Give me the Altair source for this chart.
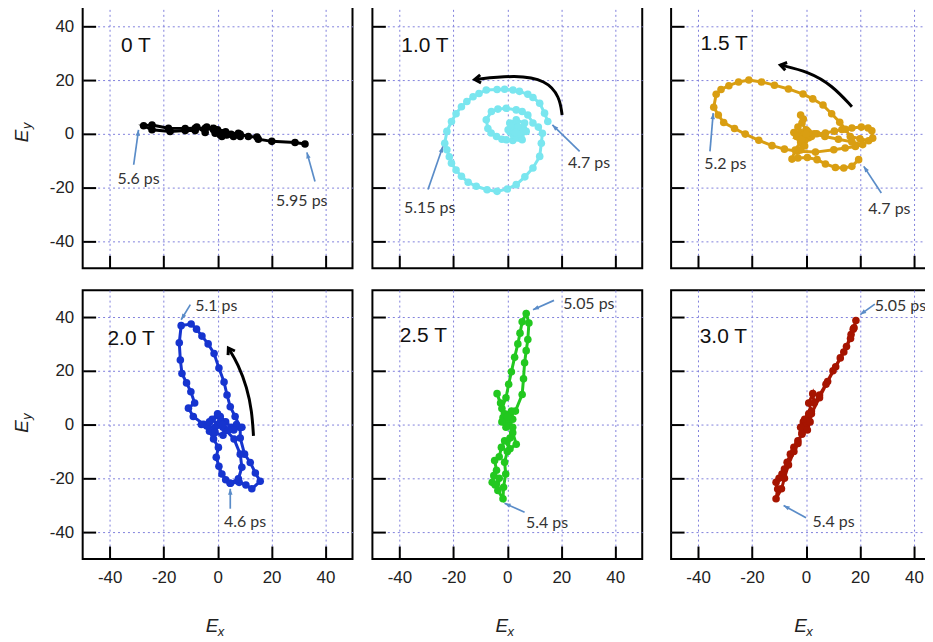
import math
import altair as alt
import pandas as pd

# ---------------- data ----------------
FIELDS = ["0 T", "1.0 T", "1.5 T", "2.0 T", "2.5 T", "3.0 T"]
COLORS = ["#000000", "#7ae6ef", "#d99e12", "#1634cf", "#22c81f", "#a61400"]

x_0T = [1, 2, 0, -1.5, -0.9, 1.6, 3.4, 5.9, 7.7, 8.4, 5, 3, 0, -4, -4.6, -7.7, -8.3, -12, -17.6, -24.3,
        -27.4, -24.3, -18.2, -12, -8.3, -4.6, -1.5, 1, 3.4, 5.9, 8.4, 11.4, 14.6, 15.1, 20.1, 28.7, 32.4]
y_0T = [-0.4, 0.3, 1, 2.1, 0.2, -1, -0.4, -1, 0.2, -1, -0.2, 0.8, 1.5, 2.5, 0.5, 2.5, 1.2, 1.2, 0.9, 1.5,
        3, 3.3, 2.1, 2, 2.1, 2.1, 1.5, 0.5, -0.2, -0.6, -0.2, -1, -1.2, -2, -2.8, -3.2, -3.8]

x_10T = [15, 13.8, 12, 9.5, 7.6, 4.5, 2.1, -1, -3.8, -7.8, -10.5, -12.7, -15, -17, -19, -20.7, -22.4, -23.2,
         -22.4, -21.5, -20.7, -19, -17, -14.5, -11.5, -7.5, -3.8, 0, 3.3, 6.5, 9.5, 12, 12.6, 13, 11.5, 9.5,
         7.6, 5.5, 3.3, -0.4, -3.5, -5.9, -7.8, -7.2, -6, -4, -2, -0.4, 2, 4.6, 7, 6.4, 3.3, 0.9, 0.3, 2.1,
         4.6, 5.2, 3.5, 1.5, 1, 3, 5, 6, 4, 2.5, 3.5, 5.5, 4.5, 3]
y_10T = [4.6, 7.7, 11.4, 13.5, 14.7, 15.8, 16.3, 16.6, 16.5, 16.3, 15, 13.8, 12, 10.1, 7.5, 4.6, 0.9, -3.5,
         -5.9, -8.5, -10.9, -13.5, -15.8, -18, -19.5, -20.8, -21.4, -20.5, -18.9, -16, -12.7, -8.4, -3.5, 0.2,
         2.5, 4, 7, 8.3, 8.9, 9.5, 9.2, 8.3, 5.2, 2, 0.3, -1, -2, -2.2, -2.5, -1.6, 0.9, 4, 5.2, 4, 1.5, -0.3,
         0.2, 2, 3.5, 2.8, 0.8, -0.5, -1, 1, 2.5, 1, -1.5, -2.2, 0, 0.5]

x_15T = [19.5, 17, 14, 10.9, 7.2, 4.1, 0.5, -3, -5.2, -4, -2, 1, 4, 7.2, 10.5, 13.3, 17, 20.5, 23, 24.4,
         24.7, 23.2, 20, 16.4, 14.6, 12.5, 9.5, 6.3, 2.5, -1.1, -6.5, -11.7, -16.5, -21.2, -25, -28.6, -31.5,
         -33.3, -34.2, -32.5, -30.5, -26.5, -22.5, -17.5, -12.6, -8, -3.3, 3.5, 10.3, 14.5, 18.3, 21, 17, 12,
         7, 3, 0, -1.5, -2, -1, -3, -4.5, -2.5, -0.5, 2, 0.5, -2, -3.5, -1, 1, -0.5, -2, -1.5, 0]
y_15T = [-9.6, -12.1, -12.7, -12.5, -11.2, -9.6, -8.8, -9, -9.4, -6, -3, -1.5, 0, 0.3, 1, 1.6, 2.2, 2.5, 2.2,
         1.1, -1.6, -2.6, -1.8, -1, 1.7, 4.3, 7.5, 10.7, 13, 14.8, 16.7, 18.1, 19.3, 20, 19.3, 17.9, 16.5,
         14.7, 9.9, 7, 4.2, 2, -0.1, -2.4, -4.4, -5.7, -6.5, -6.8, -5.9, -5.3, -4.7, -4, -3, -2, -1, 0, 1.5,
         4, 7, 5.5, 2.5, 0.5, -1.5, -2.5, -1, 1, 0.5, -1, -0.5, 0.5, -4.5, -6, -2, 0]

x_20T = [4.7, 8, 10.5, 12.7, 15.8, 14, 12.1, 10, 8.4, 8.4, 6.5, 4.7, 3.5, 2.4, 0.5, -1.3, -3.5, -5.8, -7.8,
         -9.8, -13.5, -14.2, -13.8, -13.2, -11.5, -9.9, -8.5, -10.8, -9, -5.2, -3, -1.5, 0.3, -0.5, 0.5, 1.6,
         3, 4.7, 7.7, 9, 8.4, 6.1, 3, 0, -2, 1, 3, 5, 7, 9, 6, 2, -1, -4, -6, -3, 0, 1, -1, 2, 4, 2]
y_20T = [-21.8, -21.5, -22.5, -23.9, -21.1, -18, -14.1, -11, -5, -1.1, 3, 6.6, 11, 15.8, 21, 26.4, 30, 32.9,
         35.5, 37.4, 36.8, 30.4, 24, 19, 15.5, 12.2, 8, 6.1, 3, 0.1, -2.5, -5.4, -8.5, -12.2, -15.5, -18.4,
         -20.5, -21.8, -20.2, -15.9, -11, -5.4, -2, 0, 2, 3, 1, -1, 0, -1, -2, -1, -1, -0.5, 0, 1, 4, 1, -3,
         -4, -2, 0]

x_25T = [0, 1, 3, 5.5, 6, 6.4, 7, 7.6, 8, 7, 5.5, 4.7, 3.9, 2.7, 1.5, 0.5, -0.5, -2, -3.8, -2.5, -1.6, 0.5,
         2, 3.3, 1, -1, -2.2, -3, -4.7, -4, -5, -5.6, -4.5, -3, -3.5, -1.6, -1.4, -0.6, -1, 0, 1, 2, 0.5, -1,
         1.5, 2, -0.5, -2, 0]
y_25T = [0, 3, 5, 11.2, 17, 23, 27.5, 31.6, 37.8, 41.3, 38.2, 34, 30, 25, 19.6, 15, 10, 6, 11.5, 8, 2.6, 0,
         -3, -7.3, -9, -6, -8.5, -12, -13.4, -17, -19, -21.5, -22.5, -20, -24.5, -27.6, -23.3, -18.4, -14,
         -10, -5, -1, 2, 4, 5, 2, -1, 1, 3]

x_30T = [0, 1, -1, 2, 1, 2.5, 3, 5, 7.4, 10, 12.7, 15, 16.7, 17.5, 18.5, 17.8, 16.5, 14, 11, 8, 5, 2, 0,
         -1.5, -3, -4.5, -5.8, -7, -8, -8.9, -10, -11.1, -10.5, -11.1, -9.1, -8, -6.5, -4.5, -3, -1.5, 0, 1,
         -0.5, -2, 0.5, 1.5]
y_30T = [0, 3, 1, 5, 8, 11.5, 8, 11, 15, 20, 24.8, 29, 33.5, 35.5, 38.7, 36, 32, 27, 21.5, 16, 10, 4, 0,
         -3.6, -6, -8.5, -11, -14, -16.5, -18.4, -20, -21.5, -24, -27.6, -23.9, -20, -15, -10, -7, -3, 0.5,
         4, 2, -1, -2, 1]

TRAJ_X = [x_0T, x_10T, x_15T, x_20T, x_25T, x_30T]
TRAJ_Y = [y_0T, y_10T, y_15T, y_20T, y_25T, y_30T]

# panel label positions (left edge, middle)
LABEL_X = [-35.8, -39.3, -39.1, -40.8, -39.9, -39.4]
LABEL_Y = [32.6, 32.6, 33.3, 32.0, 32.9, 32.5]

# time annotations: text, text x/y, arrow start x/y, arrow tip x/y
ANN_TEXT = [["5.6 ps", "5.95 ps"], ["4.7 ps", "5.15 ps"], ["5.2 ps", "4.7 ps"],
            ["5.1 ps", "4.6 ps"], ["5.05 ps", "5.4 ps"], ["5.05 ps", "5.4 ps"]]
ANN_TX = [[-29.3, 31.2], [30.3, -28.8], [-29.9, 30.9], [-0.5, 10.2], [30.2, 14.7], [35.0, 10.2]]
ANN_TY = [[-16.7, -25.1], [-10.9, -27.5], [-11.2, -27.9], [44.0, -36.3], [44.8, -36.7], [44.0, -36.1]]
ANN_X1 = [[-31.1, 36.1], [26.8, -29.4], [-35.6, 27.9], [-10.1, 4.7], [17.3, 6.4], [25.5, 0.0]]
ANN_Y1 = [[-11.5, -17.7], [-6.5, -20.7], [-6.5, -22.0], [44.6, -31.3], [46.2, -32.6], [44.8, -34.7]]
ANN_X2 = [[-29.3, 33.1], [16.7, -23.9], [-34.4, 21.4], [-13.5, 4.7], [9.5, -1.0], [20.1, -8.3]]
ANN_Y2 = [[1.5, -6.9], [3.3, -4.7], [7.7, -12.1], [39.0, -23.9], [42.7, -29.3], [40.9, -30.1]]

# black rotation arrows (panels 1.0 T, 1.5 T, 2.0 T)
CURVE_X = {1: [20.3, 19.4, 14.4, 3.3, -12.1], 2: [17.0, 9.6, 1.0, -9.5], 3: [13.3, 12.7, 10.9, 7.7, 4.0]}
CURVE_Y = {1: [7.0, 13.8, 20.0, 21.9, 20.2], 2: [10.1, 18.1, 23.1, 25.6], 3: [-4.2, 5.1, 13.7, 22.4, 28.5]}

TICKS = [-40, -20, 0, 20, 40]

# ---------------- styling ----------------
W, H = 271, 270
GRID = "#8080dc"
ANN_BLUE = "#5a8cc8"
TICK_FONT = "Liberation Sans"
ANN_FONT = "Lato"

ARROW_HEAD = "M0,0 L0.75,2 L-0.75,2 Z"
CHEVRON = "M-1,1.5 L0,0 L1,1.5"
LABEL_EXPR = "datum.value < 0 ? '-' + abs(datum.value) : '' + datum.value"


def heading(dx, dy):
    return math.degrees(math.atan2(dx, dy)) % 360


def axis(show, pad):
    return alt.Axis(values=TICKS, grid=True, gridColor=GRID, gridDash=[2, 3], gridWidth=1,
                    domain=False, ticks=True, tickColor="black", tickWidth=2, tickSize=13, offset=-13,
                    labels=show, labelFontSize=17, labelFont=TICK_FONT, labelColor="#222",
                    labelPadding=pad, labelFlush=False, labelExpr=LABEL_EXPR, title=None)


def enc_x(show):
    return alt.X("x:Q", scale=alt.Scale(domain=[-50, 50], nice=False, zero=False), axis=axis(show, 11))


def enc_y(show):
    return alt.Y("y:Q", scale=alt.Scale(domain=[-50, 50], nice=False, zero=False), axis=axis(show, 9))


def make_panel(i):
    row, col = divmod(i, 3)
    sx, sy = enc_x(row == 1), enc_y(col == 0)
    color = COLORS[i]

    traj = pd.DataFrame({"x": TRAJ_X[i], "y": TRAJ_Y[i], "k": list(range(len(TRAJ_X[i])))})
    line = alt.Chart(traj).mark_line(color=color, strokeWidth=3).encode(x=sx, y=sy, order="k:Q")
    pts = alt.Chart(traj).mark_circle(color=color, size=58, opacity=1).encode(x=sx, y=sy)

    ann = pd.DataFrame({"x": ANN_X1[i], "y": ANN_Y1[i], "x2": ANN_X2[i], "y2": ANN_Y2[i]})
    heads = pd.DataFrame({
        "x": ANN_X2[i], "y": ANN_Y2[i],
        "a": [heading(b - a, d - c) for a, b, c, d in zip(ANN_X1[i], ANN_X2[i], ANN_Y1[i], ANN_Y2[i])],
    })
    tdf = pd.DataFrame({"x": ANN_TX[i], "y": ANN_TY[i], "t": ANN_TEXT[i]})
    rules = alt.Chart(ann).mark_rule(color=ANN_BLUE, strokeWidth=1.7).encode(
        x=sx, y=sy, x2="x2:Q", y2="y2:Q")
    arrow_heads = alt.Chart(heads).mark_point(shape=ARROW_HEAD, filled=True, color=ANN_BLUE,
                                               size=36, opacity=1).encode(
        x=sx, y=sy, angle=alt.Angle("a:Q", scale=None))
    texts = alt.Chart(tdf).mark_text(font=ANN_FONT, fontSize=16, color="#333", align="center",
                                     baseline="middle").encode(x=sx, y=sy, text="t:N")

    lab = pd.DataFrame({"x": [LABEL_X[i]], "y": [LABEL_Y[i]], "t": [FIELDS[i]]})
    label = alt.Chart(lab).mark_text(font=TICK_FONT, fontSize=21, color="#111", align="left",
                                     baseline="middle").encode(x=sx, y=sy, text="t:N")

    layers = [line, pts, rules, arrow_heads, texts, label]

    if i in CURVE_X:
        cx, cy = CURVE_X[i], CURVE_Y[i]
        cdf = pd.DataFrame({"x": cx, "y": cy, "k": list(range(len(cx)))})
        curve = alt.Chart(cdf).mark_line(color="black", strokeWidth=3, interpolate="basis").encode(
            x=sx, y=sy, order="k:Q")
        hdf = pd.DataFrame({"x": [cx[-1]], "y": [cy[-1]],
                            "a": [heading(cx[-1] - cx[-2], cy[-1] - cy[-2])]})
        chev = alt.Chart(hdf).mark_point(shape=CHEVRON, filled=False, color="black", strokeWidth=3,
                                         size=64, opacity=1).encode(
            x=sx, y=sy, angle=alt.Angle("a:Q", scale=None))
        layers += [curve, chev]

    if col == 0:
        edf = pd.DataFrame({"t": ["E"]})
        layers.append(alt.Chart(edf).mark_text(font=TICK_FONT, fontSize=19, fontStyle="italic",
                                               color="#222", angle=270, align="center",
                                               baseline="middle").encode(
            x=alt.value(-61), y=alt.value(137), text="t:N"))
        sdf = pd.DataFrame({"t": ["y"]})
        layers.append(alt.Chart(sdf).mark_text(font=TICK_FONT, fontSize=13, fontStyle="italic",
                                               color="#222", angle=270, align="center",
                                               baseline="middle").encode(
            x=alt.value(-56), y=alt.value(127), text="t:N"))
    if row == 1:
        edf = pd.DataFrame({"t": ["E"]})
        layers.append(alt.Chart(edf).mark_text(font=TICK_FONT, fontSize=19, fontStyle="italic",
                                               color="#222", align="center",
                                               baseline="middle").encode(
            x=alt.value(130), y=alt.value(H + 67), text="t:N"))
        sdf = pd.DataFrame({"t": ["x"]})
        layers.append(alt.Chart(sdf).mark_text(font=TICK_FONT, fontSize=13, fontStyle="italic",
                                               color="#222", align="center",
                                               baseline="middle").encode(
            x=alt.value(139), y=alt.value(H + 73), text="t:N"))

    return alt.layer(*layers).properties(width=W, height=H)


panels = [make_panel(i) for i in range(6)]
row1 = alt.hconcat(alt.hconcat(panels[0], panels[1], spacing=17), panels[2], spacing=26)
row2 = alt.hconcat(alt.hconcat(panels[3], panels[4], spacing=17), panels[5], spacing=26)

chart = alt.vconcat(row1, row2, spacing=19).properties(
    padding={"left": 4, "top": -11, "right": -17, "bottom": 0},
    background="white",
).configure_view(stroke="black", strokeWidth=2)

chart.save("out.html", embed_options={"renderer": "svg", "actions": False})
